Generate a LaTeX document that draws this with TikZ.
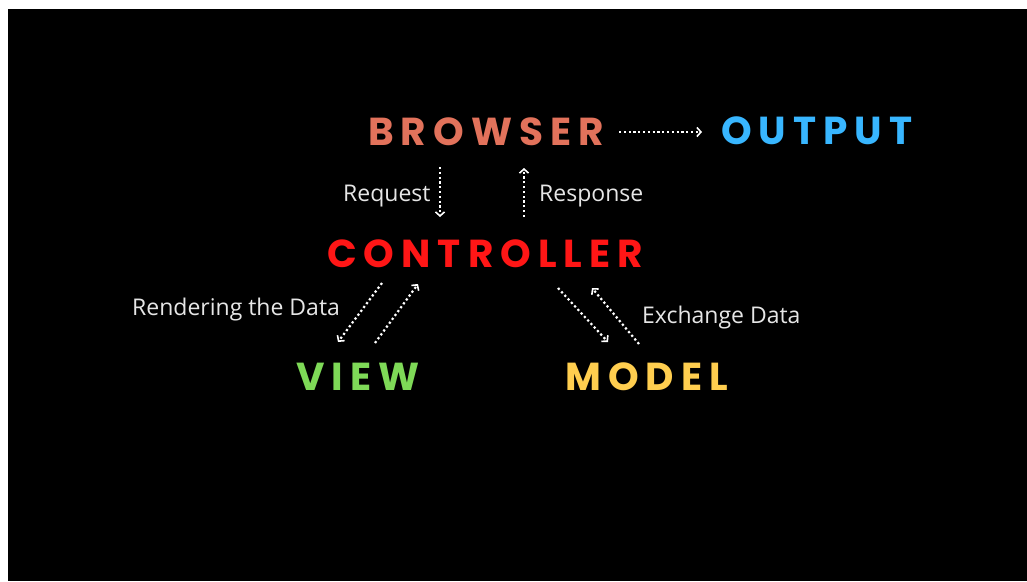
\documentclass[tikz,border=0pt]{standalone}
\usepackage{fontspec}
\usetikzlibrary{arrows.meta}
\newfontfamily\titlefont[LetterSpace=18]{Poppins}
\newfontfamily\labelfont{Open Sans}
\definecolor{cbrowser}{HTML}{E2725B}
\definecolor{coutput}{HTML}{38B6FF}
\definecolor{ccontroller}{HTML}{FF1616}
\definecolor{cview}{HTML}{7ED957}
\definecolor{cmodel}{HTML}{FFCE4F}
\definecolor{clabel}{HTML}{E6E6E6}
\tikzset{
  title/.style={inner sep=0pt, anchor=base west, font=\titlefont\bfseries\fontsize{39}{39}\selectfont},
  lbl/.style={inner sep=0pt, anchor=base west, text=clabel, font=\labelfont\fontsize{23}{23}\selectfont},
  flow/.style={white, line width=2.2pt, dash pattern=on 2.2pt off 2.6pt,
    -{Straight Barb[line width=1.6pt, length=4pt, width=9pt]}}
}
\begin{document}
\begin{tikzpicture}[x=1pt,y=-1pt]
\useasboundingbox (0,0) rectangle (1027,581);
\fill[black] (8,9) rectangle (1027,581);
% titles
\node[title, text=cbrowser] (browser) at (368,145) {BROWSER};
\node[title, text=coutput] (output) at (721,144) {OUTPUT};
\node[title, text=ccontroller] (controller) at (327,267) {CONTROLLER};
\node[title, text=cview] (view) at (296,390) {VIEW};
\node[title, text=cmodel] (model) at (565,390) {MODEL};
% labels
\node[lbl] (request) at (343,201) {Request};
\node[lbl] (response) at (539,201) {Response};
\node[lbl] (rendering) at (132,315) {Rendering the Data};
\node[lbl] (exchange) at (642,323) {Exchange Data};
% arrow end points
\coordinate (bo1) at (619,132); \coordinate (bo2) at (702,132);
\coordinate (rq1) at (440,167); \coordinate (rq2) at (440,217);
\coordinate (rs1) at (524,217); \coordinate (rs2) at (524,168);
\coordinate (cv1) at (382,283); \coordinate (cv2) at (338,342);
\coordinate (vc1) at (375,343); \coordinate (vc2) at (418,284);
\coordinate (cm1) at (558,288); \coordinate (cm2) at (608,342);
\coordinate (mc1) at (639,344); \coordinate (mc2) at (592,288);
\draw[flow] (bo1) -- (bo2);
\draw[flow] (rq1) -- (rq2);
\draw[flow] (rs1) -- (rs2);
\draw[flow] (cv1) -- (cv2);
\draw[flow] (vc1) -- (vc2);
\draw[flow] (cm1) -- (cm2);
\draw[flow] (mc1) -- (mc2);
\end{tikzpicture}
\end{document}
